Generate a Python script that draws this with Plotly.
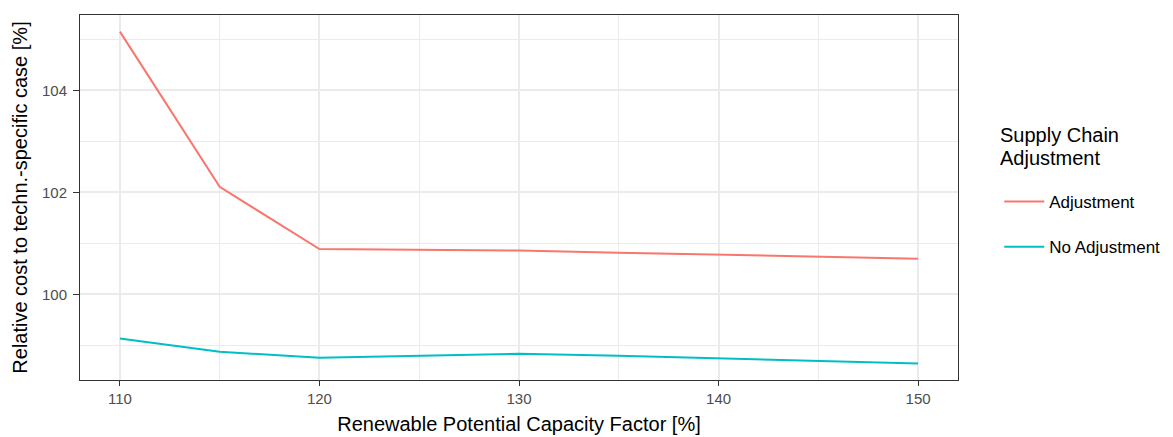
import plotly.graph_objects as go

capacity_factor = [110, 115, 120, 125, 130, 135, 140, 145, 150]
adjustment = [105.15, 102.11, 100.89, 100.87, 100.86, 100.82, 100.78, 100.74, 100.70]
no_adjustment = [99.14, 98.88, 98.76, 98.80, 98.84, 98.80, 98.75, 98.70, 98.65]
series_names = ["Adjustment", "No Adjustment"]
series_colors = ["#F8766D", "#00BFC4"]
legend_title_lines = ["Supply Chain", "Adjustment"]

FONT = "Liberation Sans, Arial, sans-serif"

fig = go.Figure()
for name, vals, col in zip(series_names, [adjustment, no_adjustment], series_colors):
    fig.add_trace(go.Scatter(x=capacity_factor, y=vals, mode="lines", name=name,
                             legendgroup=name,
                             line=dict(color=col, width=2)))

axis_common = dict(showline=True, mirror=True, linecolor="#333333", linewidth=1,
                   ticks="outside", tickcolor="#333333", tickwidth=1,
                   showgrid=True, gridcolor="#EBEBEB", gridwidth=2, zeroline=False,
                   automargin=False,
                   tickfont=dict(family=FONT, size=15, color="#4D4D4D"))

fig.update_layout(
    width=1173, height=437,
    margin=dict(l=80, r=215, t=15, b=57, autoexpand=False),
    plot_bgcolor="white", paper_bgcolor="white",
    font=dict(family=FONT),
    xaxis=dict(range=[108, 152], tick0=110, dtick=10, ticklen=5,
               minor=dict(dtick=5, showgrid=True, gridcolor="#EBEBEB", gridwidth=1.1, ticklen=0),
               title=dict(text="Renewable Potential Capacity Factor [%]", standoff=10,
                          font=dict(family=FONT, size=20, color="black")),
               **axis_common),
    yaxis=dict(range=[98.325, 105.475], tick0=100, dtick=2, ticklen=6,
               ticklabelstandoff=3,
               minor=dict(dtick=1, showgrid=True, gridcolor="#EBEBEB", gridwidth=1.1, ticklen=0),
               title=dict(text="Relative cost to techn.-specific case [%]", standoff=8,
                          font=dict(family=FONT, size=20, color="black")),
               **axis_common),
    legend=dict(x=1.047, y=0.537, xanchor="left", yanchor="top",
                font=dict(family=FONT, size=17, color="black"),
                itemwidth=40,
                tracegroupgap=20, bgcolor="rgba(0,0,0,0)"),
)

for txt, yp in zip(legend_title_lines, [0.671, 0.608]):
    fig.add_annotation(text=txt, xref="paper", yref="paper", x=1.046, y=yp,
                       xanchor="left", yanchor="middle", showarrow=False,
                       font=dict(family=FONT, size=20, color="black"))

fig.write_html("out.html", config={"displayModeBar": False},
               post_script="document.body.style.margin='0';document.body.style.overflow='hidden';")
